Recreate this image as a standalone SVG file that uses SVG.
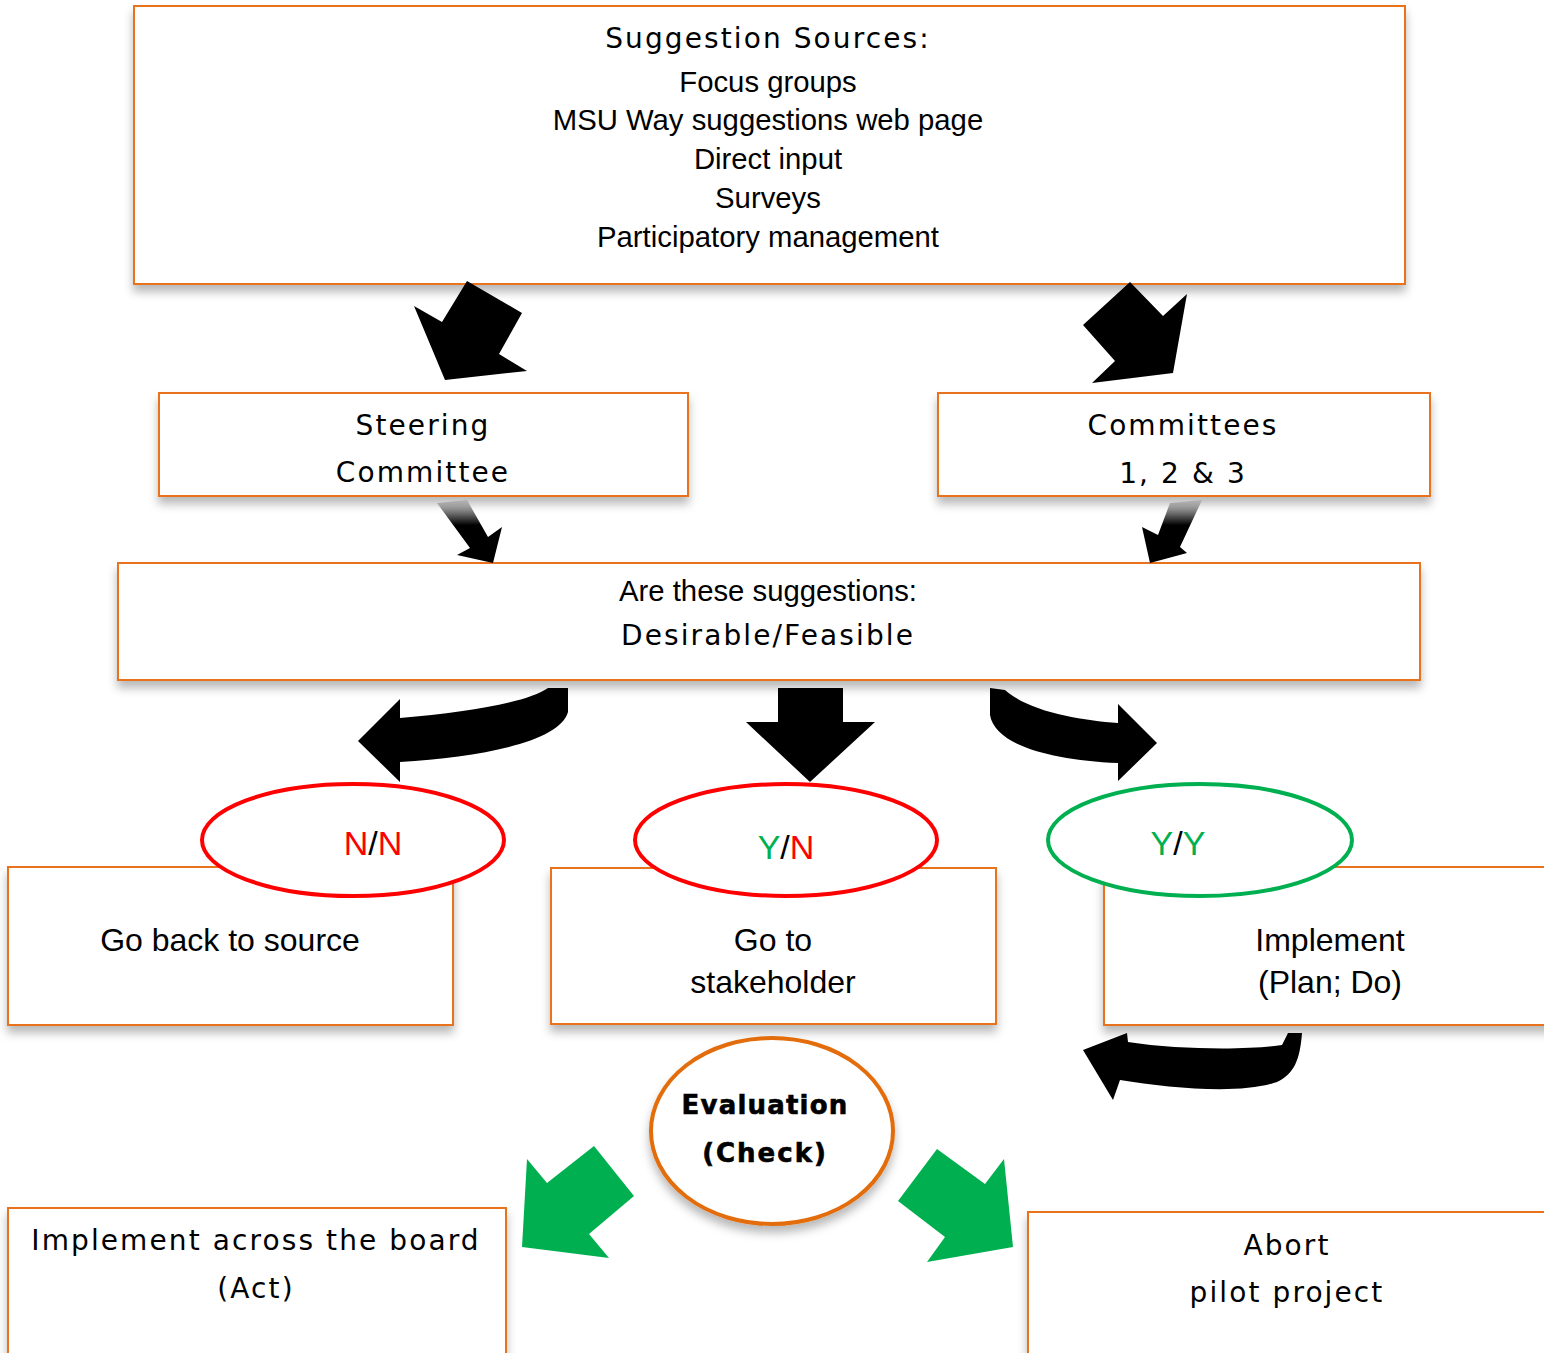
<svg xmlns="http://www.w3.org/2000/svg" width="1544" height="1353" viewBox="0 0 1544 1353">
<defs>
<filter id="sh" x="-10%" y="-10%" width="120%" height="140%">
<feDropShadow dx="0" dy="7" stdDeviation="5" flood-color="#000" flood-opacity="0.28"/>
</filter>
<linearGradient id="fadeL" x1="0" y1="0" x2="0" y2="1" gradientUnits="objectBoundingBox">
<stop offset="0" stop-color="#000" stop-opacity="0.1"/>
<stop offset="0.4" stop-color="#000" stop-opacity="1"/>
</linearGradient>
</defs>
<style>
.box{fill:#fff;stroke:#E8731A;stroke-width:2;filter:url(#sh)}
.ar{font-family:"Liberation Sans",Arial,sans-serif;fill:#000;text-anchor:middle}
.vd{font-family:"DejaVu Sans",Verdana,sans-serif;fill:#000;text-anchor:middle;font-size:28px;letter-spacing:2.1px}
.ev{font-family:"DejaVu Sans",Verdana,sans-serif;font-weight:bold;font-size:26px;text-anchor:middle;fill:#000;stroke:#000;stroke-width:0.6}
.red{fill:#FF0000}
.grn{fill:#00B050}
.arrow{fill:#000}
.garrow{fill:#00B050}
</style>
<rect width="1544" height="1353" fill="#fff"/>

<g id="sources">
<rect class="box" x="134" y="6" width="1271" height="278"/>
<text class="vd" x="768" y="48">Suggestion Sources:</text>
<text class="ar" font-size="29.3" x="768" y="92">Focus groups</text>
<text class="ar" font-size="29.3" x="768" y="130">MSU Way suggestions web page</text>
<text class="ar" font-size="29.3" x="768" y="169">Direct input</text>
<text class="ar" font-size="29.3" x="768" y="208">Surveys</text>
<text class="ar" font-size="29.3" x="768" y="247">Participatory management</text>
</g>

<g id="steering">
<rect class="box" x="159" y="393" width="529" height="103"/>
<text class="vd" x="423" y="435">Steering</text>
<text class="vd" x="423" y="482">Committee</text>
</g>

<g id="committees">
<rect class="box" x="938" y="393" width="492" height="103"/>
<text class="vd" x="1183" y="435">Committees</text>
<text class="vd" x="1183" y="483">1, 2 &amp; 3</text>
</g>

<g id="decision">
<rect class="box" x="118" y="563" width="1302" height="117"/>
<text class="ar" font-size="29.3" x="768" y="601">Are these suggestions:</text>
<text class="vd" x="768" y="645">Desirable/Feasible</text>
</g>

<g id="goback">
<rect class="box" x="8" y="867" width="445" height="158"/>
<text class="ar" font-size="32" x="230" y="951">Go back to source</text>
</g>

<g id="stakeholder">
<rect class="box" x="551" y="868" width="445" height="156"/>
<text class="ar" font-size="32" x="773" y="951">Go to</text>
<text class="ar" font-size="32" x="773" y="993">stakeholder</text>
</g>

<g id="implement">
<rect class="box" x="1104" y="867" width="460" height="158"/>
<text class="ar" font-size="32" x="1330" y="951">Implement</text>
<text class="ar" font-size="32" x="1330" y="993">(Plan; Do)</text>
</g>

<g id="nn">
<ellipse cx="353" cy="840" rx="151" ry="56" fill="#fff" stroke="#FF0000" stroke-width="4"/>
<text class="ar" font-size="34" x="373" y="855"><tspan class="red">N</tspan>/<tspan class="red">N</tspan></text>
</g>

<g id="yn">
<ellipse cx="786" cy="840" rx="151" ry="56" fill="#fff" stroke="#FF0000" stroke-width="4"/>
<text class="ar" font-size="34" x="786" y="859"><tspan class="grn">Y</tspan>/<tspan class="red">N</tspan></text>
</g>

<g id="yy">
<ellipse cx="1200" cy="840" rx="152" ry="56" fill="#fff" stroke="#00B050" stroke-width="4"/>
<text class="ar" font-size="34" x="1178" y="855"><tspan class="grn">Y</tspan>/<tspan class="grn">Y</tspan></text>
</g>

<g id="evaluation">
<ellipse cx="772" cy="1131" rx="121" ry="93" fill="#fff" stroke="#E36C09" stroke-width="4" filter="url(#sh)"/>
<text class="ev" x="765" y="1114" letter-spacing="1.2">Evaluation</text>
<text class="ev" x="765" y="1162" letter-spacing="2">(Check)</text>
</g>

<g id="act">
<rect class="box" x="8" y="1208" width="498" height="160"/>
<text class="vd" x="256" y="1250">Implement across the board</text>
<text class="vd" x="256" y="1298">(Act)</text>
</g>

<g id="abort">
<rect class="box" x="1028" y="1212" width="540" height="160"/>
<text class="vd" x="1287" y="1255">Abort</text>
<text class="vd" x="1287" y="1302">pilot project</text>
</g>

<g id="connectors">
<polygon class="arrow" points="467,281 522,313 499,354 527,371 445,380 414,306 442,322"/>
<polygon class="arrow" points="1130,282 1163,316 1187,294 1173,373 1092,383 1115,361 1083,325"/>
<polygon fill="url(#fadeL)" points="437,503 467,500 488,537 502,527 493,563 457,555 470,548"/>
<polygon fill="url(#fadeL)" points="1170,503 1202,500 1180,547 1187,553 1150,563 1142,527 1158,535"/>
<path class="arrow" d="M568,688 L568,712 C560,742 480,757 400,762 L400,782 L358,741 L400,699 L400,718 C470,712 528,702 548,688 Z"/>
<polygon class="arrow" points="778,688 843,688 843,722 875,722 810,782 746,722 778,722"/>
<path class="arrow" d="M990,688 L1005,690 C1030,712 1080,720 1118,723 L1118,704 L1157,743 L1118,781 L1118,763 C1050,760 995,745 990,715 Z"/>
<path class="arrow" d="M1083,1050 L1127,1033 L1128,1042 C1180,1050 1250,1050 1282,1045 L1288,1033 L1302,1033 C1300,1060 1294,1074 1277,1082 C1240,1095 1170,1088 1120,1080 L1113,1100 Z"/>
<polygon class="garrow" points="594,1146 634,1196 589,1234 609,1258 522,1247 527,1159 547,1183"/>
<polygon class="garrow" points="937,1149 985,1184 1004,1159 1013,1247 927,1262 945,1237 898,1201"/>
</g>
</svg>
